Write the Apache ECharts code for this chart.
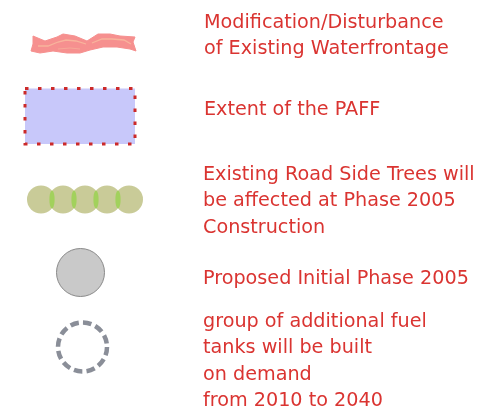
<!DOCTYPE html>
<html><head><meta charset="utf-8">
<script src="https://cdn.jsdelivr.net/npm/echarts@6/dist/echarts.min.js"></script>
<style>html,body{margin:0;padding:0;background:#fff}#c{width:488px;height:419px}</style>
</head><body><div id="c"></div>
<script>
// Legend entries (text only)
const waterfrontLabel = ["Modification/Disturbance", "of Existing Waterfrontage"];
const paffLabel = ["Extent of the PAFF"];
const treesLabel = ["Existing Road Side Trees will", "be affected at Phase 2005", "Construction"];
const initialLabel = ["Proposed Initial Phase 2005"];
const futureLabel = ["group of additional fuel", "tanks will be built", "on demand", "from 2010 to 2040"];
const treeCount = 5;

const chart = echarts.init(document.getElementById('c'), null, {renderer: 'canvas'});
const textColor = '#da3431';
const fontFamily = 'DejaVu Sans';
const fontSize = 19.2;
const lh = 26.5;

function textEl(lines, x, yCenterFirst) {
  return {
    type: 'text', left: x, top: yCenterFirst - lh / 2,
    style: {text: lines.join('\n'), fill: textColor, font: 'normal ' + fontSize + 'px "' + fontFamily + '"', lineHeight: lh}
  };
}

const elems = [];
// Wavy ribbon (waterfront)
elems.push({type: 'polygon', shape: {points: [[33,36],[45,41],[57,37],[63,34],[75,36],[87,41],[98,34],[110,34],[120,36],[135,37],[133,42],[136,51],[130,49],[117,47],[103,47],[90,50],[80,53],[67,53],[53,51],[40,53],[31,51],[33,44]]},
  style: {fill: '#f6908f', stroke: '#f6908f', lineWidth: 1, lineJoin: 'round'}});
elems.push({type: 'polyline', shape: {points: [[38,46],[48,46],[58,42],[66,40],[76,41],[86,44]]}, style: {stroke: '#f8b49c', lineWidth: 1.3, fill: null}});
elems.push({type: 'polyline', shape: {points: [[92,43],[102,39],[112,39],[124,40],[131,44]]}, style: {stroke: '#f8b49c', lineWidth: 1.3, fill: null}});
elems.push({type: 'polyline', shape: {points: [[58,49],[70,48],[80,49]]}, style: {stroke: '#f7a898', lineWidth: 1, fill: null}});
// PAFF rectangle
elems.push({type: 'rect', shape: {x: 25, y: 88.5, width: 110, height: 55.5},
  style: {fill: '#c8c8fa', stroke: '#cc2a2a', lineWidth: 3, lineDash: [3.5, 9.5]}});
// Trees
for (let i = 0; i < treeCount; i++) {
  elems.push({type: 'circle', shape: {cx: 41 + i * 22, cy: 199.5, r: 14}, style: {fill: '#c9cb98'}});
}
for (let i = 0; i < treeCount - 1; i++) {
  elems.push({type: 'ellipse', shape: {cx: 52 + i * 22, cy: 199.5, rx: 2.6, ry: 9}, style: {fill: '#98d24e', opacity: 0.8}});
}
// Initial phase circle
elems.push({type: 'circle', shape: {cx: 80.5, cy: 272.5, r: 24}, style: {fill: '#c9c9c9', stroke: '#8a8a8a', lineWidth: 1}});
// Future dashed circle
elems.push({type: 'circle', shape: {cx: 82.5, cy: 347, r: 24.5}, style: {fill: null, stroke: '#8a8e98', lineWidth: 4.5, lineDash: [8.5, 4.3]}});
// Texts
elems.push(textEl(waterfrontLabel, 204, 23));
elems.push(textEl(paffLabel, 204, 110));
elems.push(textEl(treesLabel, 203, 175));
elems.push(textEl(initialLabel, 203, 279));
elems.push(textEl(futureLabel, 203, 322));

chart.setOption({backgroundColor: '#ffffff', animation: false, graphic: {elements: elems}});
</script></body></html>
